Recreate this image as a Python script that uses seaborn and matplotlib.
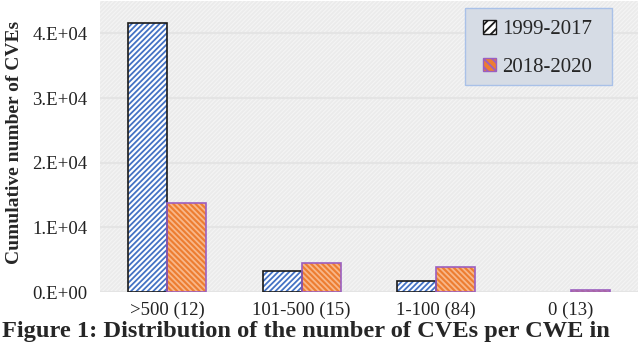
import numpy as np
import pandas as pd
import matplotlib
matplotlib.use("Agg")
import matplotlib.pyplot as plt
from matplotlib.patches import Patch, Rectangle
import seaborn as sns

# data
categories = [">500 (12)", "101-500 (15)", "1-100 (84)", "0 (13)"]
series = ["1999-2017", "2018-2020"]
vals_1999_2017 = [41600, 3300, 1700, 0]
vals_2018_2020 = [13800, 4500, 3900, 300]
ytick_vals = [0, 10000, 20000, 30000, 40000]
ytick_labels = ["0.E+00", "1.E+04", "2.E+04", "3.E+04", "4.E+04"]

df = pd.DataFrame({
    "cat": categories * 2,
    "period": [series[0]] * 4 + [series[1]] * 4,
    "count": vals_1999_2017 + vals_2018_2020,
})

sns.set_style("white")
plt.rcParams["font.family"] = ["Liberation Serif", "DejaVu Serif"]
plt.rcParams["hatch.linewidth"] = 1.3

fig = plt.figure(figsize=(6.4, 3.42), dpi=100)
ax = fig.add_axes([0.156, 0.146, 0.841, 0.851])

# light hatched background
ax.set_facecolor("#f4f4f4")
ax.add_patch(Rectangle((0, 0), 1, 1, transform=ax.transAxes, facecolor="#f4f4f4",
                       edgecolor="#ebebeb", hatch="////////", lw=0, zorder=0))

sns.barplot(data=df, x="cat", y="count", hue="period", order=categories,
            hue_order=series, palette=["white", "#ed7d31"], saturation=1,
            width=0.58, gap=0, legend=False, ax=ax, zorder=3)

styles = [
    dict(hatch="//////", hatchcol="#4472c4", border="#1a1a1a"),
    dict(hatch="\\\\\\\\\\\\", hatchcol="#f8b78a", border="#9b5fc0"),
]
for cont, st in zip(ax.containers, styles):
    for p in cont:
        p.set_hatch(st["hatch"])
        p.set_edgecolor(st["hatchcol"])
        p.set_linewidth(0)
        if p.get_height() > 0:
            ax.add_patch(Rectangle(p.get_xy(), p.get_width(), p.get_height(),
                                   fill=False, edgecolor=st["border"], lw=1.2, zorder=4))

ax.set_ylim(0, 45000)
ax.set_xlim(-0.5, 3.5)
ax.set_yticks(ytick_vals)
ax.set_yticklabels(ytick_labels)
ax.yaxis.grid(True, color="#e4e4e4", lw=1.5, zorder=1)
ax.set_axisbelow(True)
for s in ax.spines.values():
    s.set_visible(False)
ax.tick_params(axis="both", length=0, labelsize=13.5, colors="#222222")
ax.tick_params(axis="y", pad=9)
ax.tick_params(axis="x", pad=7)
ax.set_xlabel("")
ax.set_ylabel("Cumulative number of CVEs", fontsize=14, fontweight="bold")
ax.yaxis.set_label_coords(-0.143, 0.515)

# legend box (frame drawn separately so it can be wider than it is tall)
ax.add_patch(Rectangle((0.678, 0.711), 0.274, 0.265, transform=ax.transAxes,
                       facecolor="#d6dce5", edgecolor="#a9c1e8", lw=1.0, zorder=9))
handles = [
    Patch(facecolor="white", edgecolor="#1a1a1a", hatch="////", label=series[0]),
    Patch(facecolor="#ed7d31", edgecolor="#9b5fc0", hatch="\\\\\\\\", label=series[1]),
]
leg = ax.legend(handles=handles, loc="center", bbox_to_anchor=(0.813, 0.836),
                fontsize=15, frameon=False, handlelength=0.6,
                handleheight=0.6, handletextpad=0.3, labelspacing=0.9,
                borderpad=0.2)
leg.set_zorder(10)

fig.text(0.003, 1 - 337 / 342, "Figure 1: Distribution of the number of CVEs per CWE in",
         fontsize=17.6, fontweight="bold", va="baseline", ha="left")

fig.savefig("out.png", dpi=100)
